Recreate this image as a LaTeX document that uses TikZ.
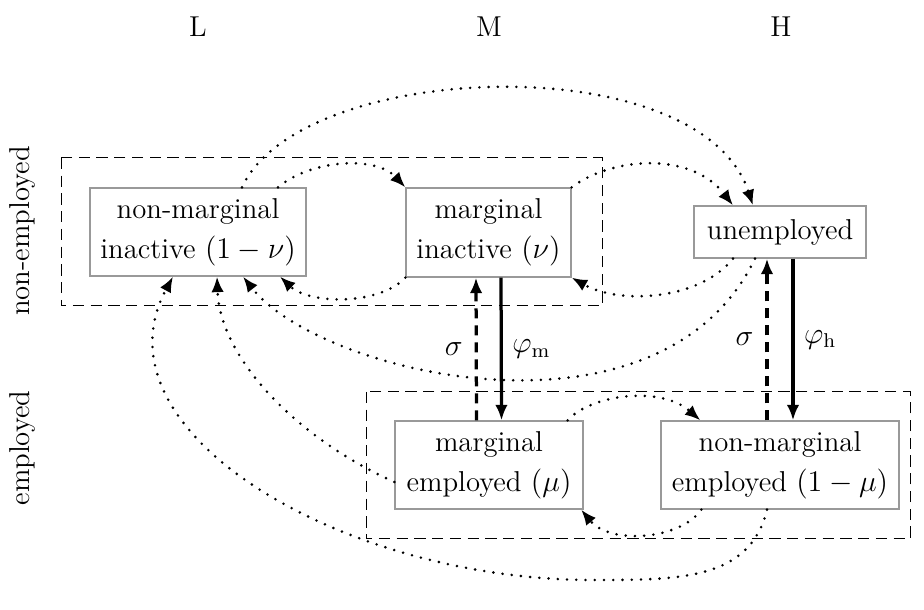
\documentclass[tikz,border=0pt]{standalone}
\usetikzlibrary{arrows.meta}
\begin{document}
\begin{tikzpicture}[x=0.4pt,y=-0.4pt,
  every node/.style={font=\fontsize{11.5}{16}\selectfont},
  statebox/.style={draw=black!40,line width=0.5pt,align=center,inner sep=0pt},
  groupbox/.style={draw=black,line width=0.4pt,dash pattern=on 4.5pt off 2.6pt},
  dotarr/.style={line width=1.15pt,line cap=round,dash pattern=on 0pt off 3.7pt,-{Latex[length=6.2pt,width=5pt]}},
  solidarr/.style={line width=1.3pt,-{Latex[length=6.2pt,width=5pt]}},
  dasharr/.style={line width=1.3pt,dash pattern=on 4pt off 2.8pt,-{Latex[length=6.2pt,width=5pt]}}
]
\useasboundingbox (0,0) rectangle (924,610);

% column headings
\node (hL) at (198,27) {L};
\node (hM) at (489,27) {M};
\node (hH) at (781,27) {H};

% row labels
\node[rotate=90] (rN) at (22,231) {non-employed};
\node[rotate=90] (rE) at (22,448) {employed};

% group rectangles
\draw[groupbox] (61,158) rectangle (602,306);
\draw[groupbox] (366,392) rectangle (910,539);

% states
\node[statebox,minimum width=86.4pt,minimum height=35.2pt] (nmi) at (198,232) {non-marginal\\inactive $(1-\nu)$};
\node[statebox,minimum width=66pt,minimum height=35.6pt] (mi) at (488.5,232.5) {marginal\\inactive $(\nu)$};
\node[statebox,minimum width=68.8pt,minimum height=20.8pt] (un) at (780,232) {unemployed};
\node[statebox,minimum width=75.2pt,minimum height=35.2pt] (me) at (489,465) {marginal\\employed $(\mu)$};
\node[statebox,minimum width=95.2pt,minimum height=35.2pt] (nme) at (780,465) {non-marginal\\employed $(1-\mu)$};

% vertical transitions
\draw[solidarr] ([xshift=5pt]mi.south) -- ([xshift=5pt]me.north) node[pos=0.5,right=0.5pt] (lphm) {$\varphi_{\mathrm{m}}$};
\draw[dasharr] ([xshift=-5pt]me.north) -- ([xshift=-5pt]mi.south) node[pos=0.5,left=1.5pt] (lsm) {$\sigma$};
\draw[solidarr] ([xshift=5.2pt]un.south) -- ([xshift=5.2pt]nme.north) node[pos=0.5,right=0.5pt] (lphh) {$\varphi_{\mathrm{h}}$};
\draw[dasharr] ([xshift=-5.2pt]nme.north) -- ([xshift=-5.2pt]un.south) node[pos=0.5,left=1.5pt] (lsh) {$\sigma$};

% dotted transitions, top row
\draw[dotarr] ([xshift=17.6pt]nmi.north) .. controls (300,60) and (700,45) .. ([xshift=-10.8pt]un.north);
\draw[dotarr] ([xshift=32pt]nmi.north) .. controls (310,160) and (375,155) .. (mi.north west);
\draw[dotarr] (mi.north east) .. controls (610,158) and (690,150) .. ([xshift=-18.8pt]un.north);
\draw[dotarr] ([xshift=-18.8pt]un.south) .. controls (700,300) and (620,305) .. (mi.south east);
\draw[dotarr] (mi.south west) .. controls (380,305) and (310,305) .. ([xshift=32.8pt]nmi.south);
\draw[dotarr] ([xshift=-10pt]un.south) .. controls (660,455) and (320,375) .. ([xshift=18pt]nmi.south);

% dotted transitions, employed to L
\draw[dotarr] ([yshift=-6.8pt]me.west) .. controls (300,440) and (220,360) .. ([xshift=7.6pt]nmi.south);
\draw[dotarr] ([xshift=-5.2pt]nme.south) .. controls (750,580) and (680,580) .. (593,580)
   .. controls (340,580) and (90,430) .. ([xshift=-10pt]nmi.south);

% dotted transitions, bottom row
\draw[dotarr] ([xshift=-6.4pt]me.north east) .. controls (590,395) and (660,385) .. ([xshift=16pt]nme.north west);
\draw[dotarr] ([xshift=16.4pt]nme.south west) .. controls (680,540) and (610,545) .. ([xshift=-1pt]me.south east);
\end{tikzpicture}
\end{document}
